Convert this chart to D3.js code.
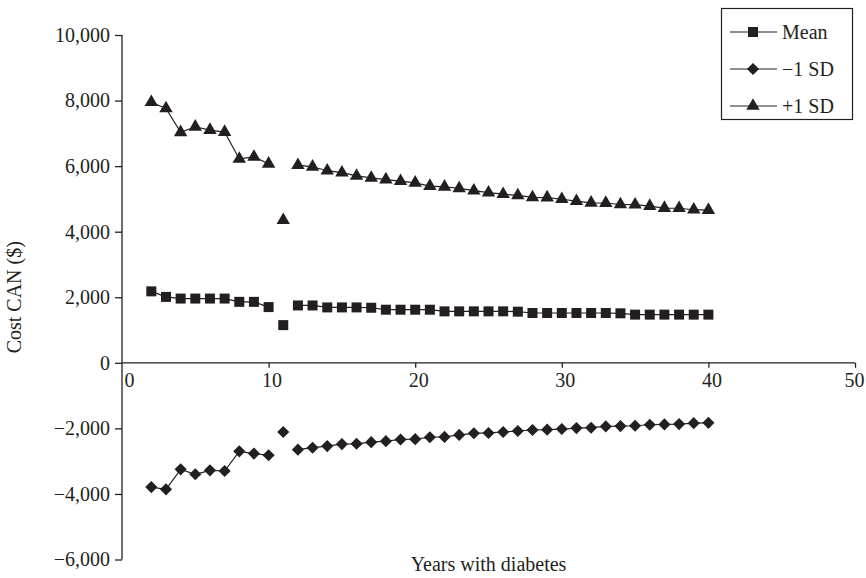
<!DOCTYPE html>
<html>
<head>
<meta charset="utf-8">
<script src="https://cdn.jsdelivr.net/npm/d3@7"></script>
<style>
  html, body { margin: 0; padding: 0; background: #fff; }
  svg { display: block; }
  text { font-family: "Liberation Serif", "Times New Roman", serif; fill: #231f20; }
</style>
</head>
<body>
<svg id="chart" width="866" height="578"></svg>
<script>
// Years with diabetes (x values)
const years = [2, 3, 4, 5, 6, 7, 8, 9, 10, 11, 12, 13, 14, 15, 16, 17, 18, 19, 20, 21,
               22, 23, 24, 25, 26, 27, 28, 29, 30, 31, 32, 33, 34, 35, 36, 37, 38, 39, 40];

// Cost of CAN ($)
const meanCost = [2180, 2010, 1960, 1960, 1960, 1960, 1860, 1860, 1700, 1150,
                  1750, 1750, 1690, 1690, 1690, 1680, 1620, 1620, 1620, 1620,
                  1570, 1570, 1570, 1570, 1570, 1560, 1520, 1520, 1520, 1520,
                  1520, 1520, 1510, 1470, 1470, 1470, 1470, 1470, 1470];
const minusSD = [-3790, -3860, -3250, -3400, -3280, -3300, -2700, -2770, -2820, -2110,
                 -2650, -2590, -2540, -2480, -2470, -2420, -2390, -2340, -2330, -2270,
                 -2260, -2200, -2150, -2140, -2110, -2080, -2050, -2040, -2020, -1990,
                 -1980, -1940, -1930, -1920, -1890, -1880, -1870, -1840, -1830];
const plusSD = [7950, 7760, 7030, 7200, 7100, 7040, 6220, 6280, 6070, 4350,
                6030, 5980, 5860, 5800, 5700, 5640, 5590, 5540, 5490, 5390,
                5370, 5320, 5250, 5190, 5145, 5105, 5045, 5040, 4990, 4930,
                4880, 4875, 4830, 4825, 4780, 4720, 4715, 4670, 4660];

// Year whose point stands alone (not joined to its neighbours)
const unjoinedYear = 11;

const xTicks = [0, 10, 20, 30, 40, 50];
const yTicks = [-6000, -4000, -2000, 0, 2000, 4000, 6000, 8000, 10000];

const seriesNames = ["Mean", "\u22121 SD", "+1 SD"];
const seriesValues = [meanCost, minusSD, plusSD];
const seriesShapes = ["square", "diamond", "triangle"];

const ink = "#231f20";
const svg = d3.select("#chart");

const x = d3.scaleLinear().domain([0, 50]).range([122, 855]);
const y = d3.scaleLinear().domain([-6000, 10000]).range([559.5, 35]);

const fmt = d3.format(",");
const tickFmt = v => (v < 0 ? "\u2212" + fmt(-v) : fmt(v));

// Y axis
const yAxis = svg.append("g").attr("transform", `translate(${x(0)},0)`)
  .call(d3.axisLeft(y).tickValues(yTicks).tickSize(7).tickPadding(5).tickFormat(tickFmt));
yAxis.select(".domain").attr("d", `M0,${y(10000)}V${y(-6000)}`);
// X axis
const xAxis = svg.append("g").attr("transform", `translate(0,${y(0)})`)
  .call(d3.axisBottom(x).tickValues(xTicks).tickSize(5).tickPadding(5).tickFormat(d3.format("d")));
xAxis.select(".domain").attr("d", `M${x(0)},0H${x(50)}`);
xAxis.selectAll(".tick line").filter(d => d === 0).remove();
xAxis.selectAll(".tick text").attr("dx", d => d === 0 ? 7 : (d === 50 ? -1 : 3));

[yAxis, xAxis].forEach(g => {
  g.selectAll(".domain, .tick line").attr("stroke", ink).attr("stroke-width", 1.3);
  g.selectAll(".tick text").attr("fill", ink)
    .style("font-family", '"Liberation Serif", serif').style("font-size", "20px");
});

// Axis titles
svg.append("text")
  .attr("transform", `translate(21,${(y(10000) + y(-6000)) / 2}) rotate(-90)`)
  .attr("text-anchor", "middle")
  .style("font-size", "20px")
  .text("Cost CAN ($)");
svg.append("text")
  .attr("x", (x(0) + x(50)) / 2)
  .attr("y", 571)
  .attr("text-anchor", "middle")
  .style("font-size", "20px")
  .text("Years with diabetes");

// Marker shapes
function markerPath(shape) {
  if (shape === "square") return d3.symbol(d3.symbolSquare, 100)();
  if (shape === "diamond") return d3.symbol(d3.symbolSquare, 74)();
  return d3.symbol(d3.symbolTriangle, 78)();
}
function markerRotate(shape) { return shape === "diamond" ? " rotate(45)" : ""; }

const line = d3.line()
  .defined(d => d.year !== unjoinedYear)
  .x(d => x(d.year))
  .y(d => y(d.value));

seriesValues.forEach((vals, i) => {
  const pts = years.map((yr, k) => ({ year: yr, value: vals[k] }));
  const shape = seriesShapes[i];
  const g = svg.append("g");
  g.append("path")
    .datum(pts)
    .attr("fill", "none")
    .attr("stroke", ink)
    .attr("stroke-width", 1.2)
    .attr("d", line);
  g.selectAll("path.mark")
    .data(pts)
    .join("path")
    .attr("class", "mark")
    .attr("d", markerPath(shape))
    .attr("transform", d => `translate(${x(d.year)},${y(d.value)})${markerRotate(shape)}`)
    .attr("fill", ink);
});

// Legend
const legend = svg.append("g");
legend.append("rect")
  .attr("x", 721.5).attr("y", 8.5).attr("width", 131).attr("height", 111)
  .attr("fill", "#fff").attr("stroke", ink).attr("stroke-width", 1.2);
seriesNames.forEach((name, i) => {
  const cy = 32 + i * 37;
  const item = legend.append("g").attr("transform", `translate(0,${cy})`);
  item.append("line").attr("x1", 730).attr("x2", 777).attr("y1", 0).attr("y2", 0)
    .attr("stroke", ink).attr("stroke-width", 1.2);
  item.append("path").attr("d", markerPath(seriesShapes[i]))
    .attr("transform", `translate(753,0)${markerRotate(seriesShapes[i])}`)
    .attr("fill", ink);
  item.append("text").attr("x", 782).attr("y", 0).attr("dy", "0.35em")
    .style("font-size", "20px").text(name);
});
</script>
</body>
</html>
